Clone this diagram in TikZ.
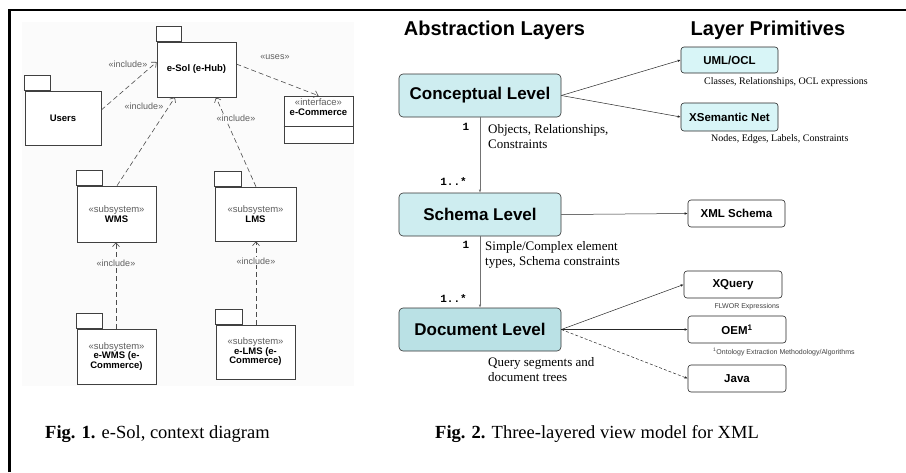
\documentclass[tikz,border=0pt]{standalone}
\usepackage{fontspec}
\setmainfont{Liberation Serif}
\setsansfont{Liberation Sans}
\setmonofont{Liberation Mono}
\usetikzlibrary{arrows.meta,positioning,calc}

\definecolor{umlbg}{RGB}{251,251,251}
\definecolor{stereo}{RGB}{95,95,95}
\definecolor{layerfill}{RGB}{206,237,240}
\definecolor{docfill}{RGB}{186,225,229}
\definecolor{primfill}{RGB}{216,245,247}
\newcommand{\fsz}[1]{\fontsize{#1}{#1}\selectfont}

\tikzset{
  pkg/.style={draw=black!75, line width=0.6pt, fill=white, inner sep=0pt,
              align=center, font=\sffamily\bfseries\fsz{9.5}},
  pkgtab/.style={draw=black!75, line width=0.6pt, fill=white},
  dep/.style={draw=black!70, line width=0.6pt, dash pattern=on 5pt off 3pt,
              -{Straight Barb[length=4pt,width=7pt]}},
  stlabel/.style={text=stereo, font=\sffamily\fsz{9}, fill=umlbg, inner sep=1pt},
  layer/.style={draw=black!80, line width=0.6pt, rounded corners=4pt, fill=layerfill,
                minimum width=162pt, minimum height=43pt, font=\sffamily\bfseries\fsz{17}},
  prim/.style={draw=black!85, line width=0.6pt, rounded corners=3pt, fill=white,
               minimum width=97pt, minimum height=27pt, font=\sffamily\bfseries\fsz{11.5}},
  link/.style={draw=black!85, line width=0.5pt, -{Latex[length=3pt,width=2.5pt]}},
  downlink/.style={draw=black!55, line width=0.6pt, -{Latex[length=3pt,width=2.5pt]}},
  card/.style={font=\ttfamily\bfseries\fsz{11}, inner sep=0pt},
  note/.style={font={\fontsize{13}{15}\selectfont}, align=left, inner sep=0pt, anchor=west},
  prinote/.style={font=\fsz{10}, inner sep=0pt, anchor=west},
  tinynote/.style={font=\sffamily\fsz{7}, text=black!75, inner sep=0pt},
  heading/.style={font=\sffamily\bfseries\fsz{20}, inner sep=0pt},
  caption/.style={font=\fsz{18.5}, inner sep=0pt, anchor=base west}
}

\begin{document}
\begin{tikzpicture}[x=1pt,y=-1pt]
\useasboundingbox (0,0) rectangle (906,472);

% frame and backdrop of fig. 1
\fill[umlbg] (22,22) rectangle (354,386);
\draw[line width=2.7pt] (9.5,472) -- (9.5,10) -- (906,10);

% Fig. 1: packages
\node[pkg, minimum width=79pt, minimum height=55pt] (esol) at (196.5,69.5) {e-Sol (e-Hub)};
\node[pkg, minimum width=76pt, minimum height=54pt] (users) at (63,118) {Users};
\node[pkg, minimum width=79pt, minimum height=56pt] (wms) at (116.5,214)
  {{\mdseries\color{stereo}«subsystem»}\\WMS};
\node[pkg, minimum width=81pt, minimum height=54pt] (lms) at (255.5,214)
  {{\mdseries\color{stereo}«subsystem»}\\LMS};
\node[pkg, minimum width=79pt, minimum height=55pt] (ewms) at (116.5,356.5)
  {{\mdseries\color{stereo}«subsystem»}\\e-WMS (e-\\Commerce)};
\node[pkg, minimum width=79pt, minimum height=54pt] (elms) at (255.5,352)
  {{\mdseries\color{stereo}«subsystem»}\\e-LMS (e-\\Commerce)};
\foreach \p/\w in {esol/25,users/26,wms/26,lms/27,ewms/26,elms/27}
  {\draw[pkgtab] (\p.north west) rectangle ++(\w,-15);}

% interface box
\node[pkg, minimum width=69pt, minimum height=47pt] (ecom) at (318.5,119.5) {};
\node[pkg, draw=none, fill=none, anchor=north] (ecomtxt) at (318.5,98.5)
  {{\mdseries\color{stereo}«interface»}\\e-Commerce};
\draw[draw=black!75, line width=0.6pt] (ecom.west |- 0,126) -- (ecom.east |- 0,126);

% dependencies
\draw[dep] ([yshift=8pt]users.east) -- ([yshift=7.5pt]esol.west);
\draw[dep] ([xshift=0.5pt]wms.north) -- ([xshift=-21.5pt]esol.south);
\draw[dep] ([xshift=0.5pt]lms.north) -- ([xshift=19.5pt]esol.south);
\draw[dep] ([yshift=5.5pt]esol.east) -- (ecom.north);
\draw[dep] ([xshift=-0.5pt]ewms.north) -- ([xshift=-0.5pt]wms.south);
\draw[dep] ([xshift=0.5pt]elms.north) -- ([xshift=0.5pt]lms.south);

\node[stlabel] (inc1) at (128,64) {«include»};
\node[stlabel] (inc2) at (144,106) {«include»};
\node[stlabel] (inc3) at (236,118) {«include»};
\node[stlabel] (uses) at (275,57) {«uses»};
\node[stlabel] (inc4) at (116,263) {«include»};
\node[stlabel] (inc5) at (256,261) {«include»};

% Fig. 2: layers
\node[heading] (abs) at (494.5,30) {Abstraction Layers};
\node[heading] (prims) at (768,30) {Layer Primitives};

\node[layer] (concept) at (480,95.5) {Conceptual Level};
\node[layer] (schema) at (480,214.5) {Schema Level};
\node[layer, fill=docfill] (docu) at (480,329.5) {Document Level};

\node[prim, fill=primfill, minimum height=26pt] (uml) at (729.5,60) {UML/OCL};
\node[prim, fill=primfill, minimum height=28pt] (xsem) at (729.5,117) {XSemantic Net};
\node[prim] (xmls) at (736.5,213.5) {XML Schema};
\node[prim, minimum width=98pt] (xq) at (733,284.5) {XQuery};
\node[prim, minimum width=98pt] (oem) at (737,329.5) {OEM\textsuperscript{1}};
\node[prim, minimum width=98pt] (java) at (737,378.5) {Java};

\draw[downlink] (concept) -- (schema);
\draw[downlink] (schema) -- (docu);
\draw[link] (concept.east) -- (uml.west);
\draw[link] (concept.east) -- (xsem.west);
\draw[link] (schema.east) -- (xmls.west);
\draw[link] (docu.east) -- (xq.west);
\draw[link] (docu.east) -- (oem.west);
\draw[link, densely dashed] (docu.east) -- (java.west);

\node[card] (c1a) at (466,127) {1};
\node[card] (c1b) at (453.5,182) {1..*};
\node[card] (c2a) at (466,245) {1};
\node[card] (c2b) at (453.5,299) {1..*};

\node[note] (objtxt) at (488,137) {Objects, Relationships,\\Constraints};
\node[note] (simtxt) at (485,255) {Simple/Complex element\\types, Schema constraints};
\node[note] (qrytxt) at (488,370) {Query segments and\\document trees};

\node[prinote] (umltxt) at (704,82) {Classes, Relationships, OCL expressions};
\node[prinote] (xsemtxt) at (711,139) {Nodes, Edges, Labels, Constraints};
\node[tinynote] (xqtxt) at (747,307) {FLWOR Expressions};
\node[tinynote, anchor=west] (oemtxt) at (713,352)
  {\textsuperscript{1}Ontology Extraction Methodology/Algorithms};

% captions
\node[caption] (cap1) at (45,438) {\textbf{Fig. 1.} e-Sol, context diagram};
\node[caption] (cap2) at (435,438) {\textbf{Fig. 2.} Three-layered view model for XML};
\end{tikzpicture}
\end{document}
